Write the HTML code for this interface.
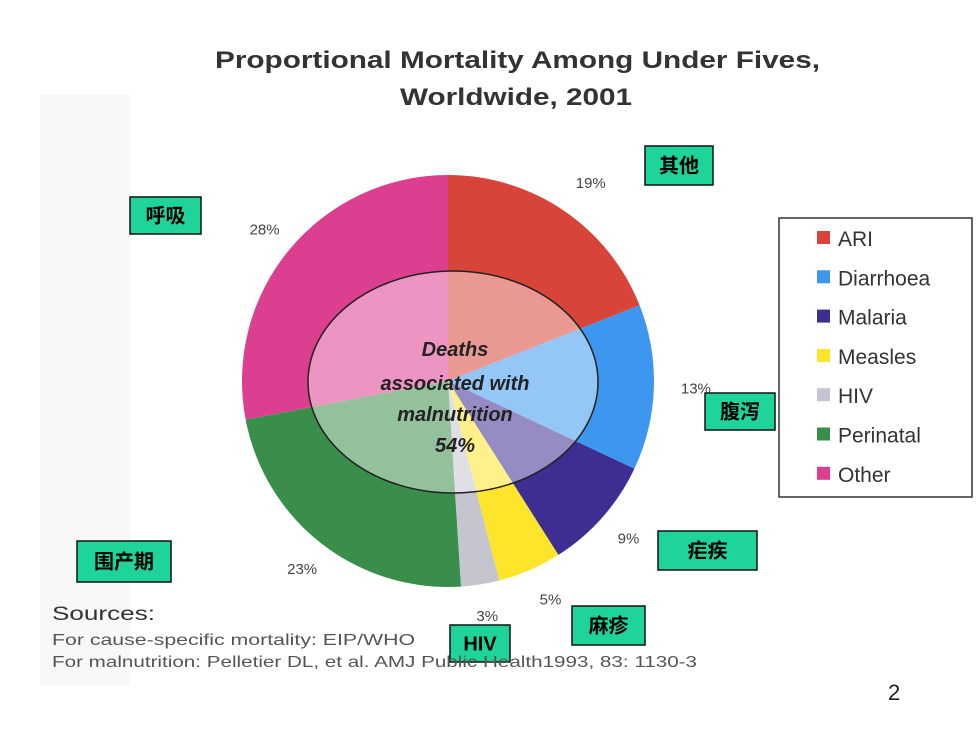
<!DOCTYPE html>
<html><head><meta charset="utf-8"><style>
body{margin:0;background:#fff;}
svg{display:block;font-family:"Liberation Sans","Noto Sans CJK SC",sans-serif;}
</style></head><body>
<svg id="chart" width="980" height="735" viewBox="0 0 980 735">
<rect x="40" y="95" width="90" height="590" fill="#f8f8fa"/>
<text x="215" y="68" textLength="605" lengthAdjust="spacingAndGlyphs" font-size="24" font-weight="bold" fill="#333">Proportional Mortality Among Under Fives,</text>
<text x="400" y="105" textLength="232" lengthAdjust="spacingAndGlyphs" font-size="24" font-weight="bold" fill="#333">Worldwide, 2001</text>
<g id="slices"></g>
<g id="inner"></g>
<g id="pcts"></g>
<g id="legend"></g>
<g id="cn"></g>
<text x="52" y="620" textLength="103" lengthAdjust="spacingAndGlyphs" font-size="19" fill="#333">Sources:</text>
<text x="52" y="645" textLength="363" lengthAdjust="spacingAndGlyphs" font-size="16" fill="#555">For cause-specific mortality: EIP/WHO</text>
<text x="52" y="667" textLength="645" lengthAdjust="spacingAndGlyphs" font-size="16" fill="#555">For malnutrition: Pelletier DL, et al. AMJ Public Health1993, 83: 1130-3</text>
<text x="888" y="700" font-size="22" fill="#222">2</text>
</svg>
<script>
const categories=["ARI","Diarrhoea","Malaria","Measles","HIV","Perinatal","Other"];
const values=[19,13,9,5,3,23,28];
const colors=["#d9443a","#3d97ef","#3e2e92","#fde52b","#c5c5cf","#3a8e4b","#dc3f90"];
const pctLabels=["19%","13%","9%","5%","3%","23%","28%"];
const cnNames=["其他","腹泻","疟疾","麻疹","HIV","围产期","呼吸"];
const NS="http://www.w3.org/2000/svg";
const cx=448,cy=381,r=206;
const total=values.reduce((a,b)=>a+b,0);
function ang(v){return v/total*2*Math.PI-Math.PI/2;}
function pt(a,rr){return [cx+rr*Math.cos(a),cy+rr*Math.sin(a)];}
const sg=document.getElementById('slices');
let acc=0;
const mids=[];
values.forEach((v,i)=>{
  const a0=ang(acc),a1=ang(acc+v);acc+=v;mids.push((a0+a1)/2);
  const p0=pt(a0,r),p1=pt(a1,r);
  const p=document.createElementNS(NS,'path');
  p.setAttribute('d',`M${cx},${cy}L${p0[0]},${p0[1]}A${r},${r} 0 ${a1-a0>Math.PI?1:0} 1 ${p1[0]},${p1[1]}Z`);
  p.setAttribute('fill',colors[i]);
  
  
  sg.appendChild(p);
});
const ig=document.getElementById('inner');
const el=document.createElementNS(NS,'ellipse');
el.setAttribute('cx',453);el.setAttribute('cy',382);el.setAttribute('rx',145);el.setAttribute('ry',111);
el.setAttribute('fill','rgba(255,255,255,0.45)');el.setAttribute('stroke','#222');el.setAttribute('stroke-width','1.5');


ig.appendChild(el);
[["Deaths",356],["associated with",390],["malnutrition",421],["54%",452]].forEach(([t,y])=>{
  const tx=document.createElementNS(NS,'text');
  tx.setAttribute('x',455);tx.setAttribute('y',y);tx.setAttribute('text-anchor','middle');
  tx.setAttribute('font-size','20');tx.setAttribute('font-weight','bold');tx.setAttribute('font-style','italic');tx.setAttribute('fill','#222');
  tx.textContent=t;
  
  
  ig.appendChild(tx);
});
const pg=document.getElementById('pcts');
const pctOff=[[9,-1],[10,0],[2,0],[8,0],[2,0],[0,0],[0,0]];
mids.forEach((m,i)=>{
  const p=pt(m,r+32);
  const t=document.createElementNS(NS,'text');
  t.setAttribute('x',p[0]+pctOff[i][0]);t.setAttribute('y',p[1]+5+pctOff[i][1]);t.setAttribute('text-anchor','middle');
  t.setAttribute('font-size','15');t.setAttribute('fill','#444');
  t.textContent=pctLabels[i];
  
  
  pg.appendChild(t);
});
const lg=document.getElementById('legend');
const box=document.createElementNS(NS,'rect');
box.setAttribute('x',779);box.setAttribute('y',218);box.setAttribute('width',193);box.setAttribute('height',279);
box.setAttribute('fill','#fff');box.setAttribute('stroke','#333');box.setAttribute('stroke-width','1.5');


lg.appendChild(box);
categories.forEach((c,i)=>{
  const y=238+i*39.3;
  const s=document.createElementNS(NS,'rect');
  s.setAttribute('x',817);s.setAttribute('y',y-7);s.setAttribute('width',13);s.setAttribute('height',13);s.setAttribute('fill',colors[i]);
  
  
  lg.appendChild(s);
  const t=document.createElementNS(NS,'text');
  t.setAttribute('x',838);t.setAttribute('y',y+8);t.setAttribute('font-size','21');t.setAttribute('fill','#333');
  t.textContent=c;
  
  
  lg.appendChild(t);
});
const boxes=[[645,146,68,39],[705,393,70,37],[658,531,99,39],[572,606,73,39],[450,625,60,37],[77,541,94,41],[130,197,71,37]];
const cg=document.getElementById('cn');
boxes.forEach((b,i)=>{
  const rc=document.createElementNS(NS,'rect');
  rc.setAttribute('x',b[0]);rc.setAttribute('y',b[1]);rc.setAttribute('width',b[2]);rc.setAttribute('height',b[3]);
  rc.setAttribute('fill','#1fd49b');rc.setAttribute('stroke','#111');rc.setAttribute('stroke-width','1.5');
  
  
  cg.appendChild(rc);
  const t=document.createElementNS(NS,'text');
  t.setAttribute('x',b[0]+b[2]/2);t.setAttribute('y',b[1]+b[3]/2+7);t.setAttribute('text-anchor','middle');
  t.setAttribute('font-size','20');t.setAttribute('font-weight','bold');t.setAttribute('fill','#000');
  t.textContent=cnNames[i];
  
  
  cg.appendChild(t);
});
</script>
</body></html>
